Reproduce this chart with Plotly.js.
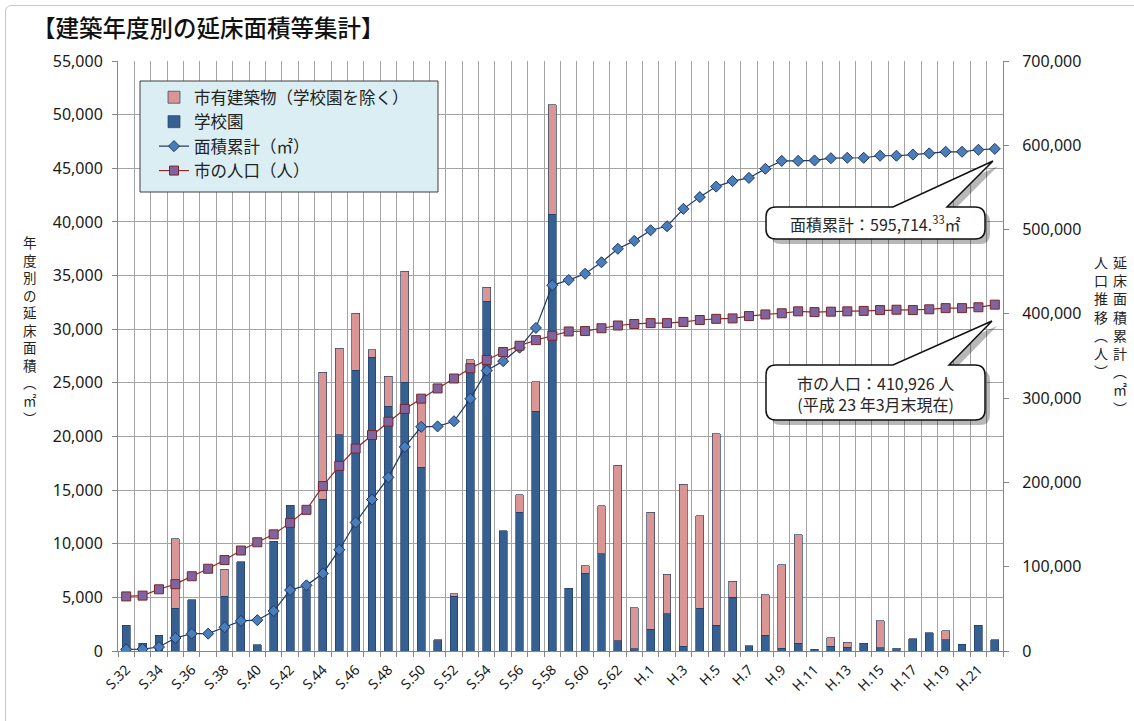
<!DOCTYPE html>
<html><head><meta charset="utf-8">
<script src="https://cdn.plot.ly/plotly-3.0.1.min.js"></script>
<style>
html,body{margin:0;padding:0;background:#fff;}
#wrap{position:relative;width:1134px;height:721px;overflow:hidden;}
#chart{width:1134px;height:721px;}
#frame{position:absolute;left:5px;top:5px;width:1140px;height:730px;border:1px solid #c8c8c8;border-radius:6px;pointer-events:none;}
</style></head>
<body><div id="wrap"><div id="chart"></div><div id="frame"></div></div>
<script>
// ---- data ----
const categories = ["S.32","S.33","S.34","S.35","S.36","S.37","S.38","S.39","S.40","S.41","S.42","S.43","S.44","S.45","S.46","S.47","S.48","S.49","S.50","S.51","S.52","S.53","S.54","S.55","S.56","S.57","S.58","S.59","S.60","S.61","S.62","S.63","H.1","H.2","H.3","H.4","H.5","H.6","H.7","H.8","H.9","H.10","H.11","H.12","H.13","H.14","H.15","H.16","H.17","H.18","H.19","H.20","H.21","H.22"];
const tickLabels = ["S.32","S.34","S.36","S.38","S.40","S.42","S.44","S.46","S.48","S.50","S.52","S.54","S.56","S.58","S.60","S.62","H.1","H.3","H.5","H.7","H.9","H.11","H.13","H.15","H.17","H.19","H.21"];
// 学校園 (m2)
const schoolArea = [2400,700,1450,4000,4800,0,5100,8300,600,10250,13600,5700,14150,20150,26150,27400,22800,25050,17150,950,5100,26600,32600,11200,12950,22350,40700,5850,7250,9050,950,200,2050,3450,450,4000,2400,5000,500,1450,250,700,150,450,350,700,300,100,1150,1700,1050,650,2400,1050];
// 市有建築物（学校園を除く）(m2)
const otherArea = [0,0,0,6450,0,0,2500,0,0,0,0,300,11850,8050,5350,700,2800,10350,6050,100,250,550,1300,0,1600,2750,10200,0,700,4500,16350,3850,10900,3700,15100,8600,17850,1500,0,3800,7800,10150,0,800,450,0,2500,150,0,0,850,0,0,0];
// 面積累計 (m2)
const cumulativeArea = [1900,2300,4700,15500,20600,20600,28200,35700,36600,47400,72300,77900,92000,120100,152500,179700,206000,242100,266000,266500,272600,299400,332700,343900,359900,383300,434000,440100,447600,461200,477200,486600,499200,503900,524600,538500,551000,557500,561300,572100,581500,581500,582000,584700,585200,585200,587600,587600,589000,590400,592300,592300,594700,595714];
// 市の人口 (人)
const population = [64750,65700,73200,79300,88700,97600,107900,119200,129000,138400,152000,167500,195700,219600,240200,256200,272100,287200,299400,311500,323300,335500,345300,354700,362200,368800,374000,379100,379600,382900,386200,388000,389000,389000,390400,392700,394100,394600,397400,399300,400700,403000,402100,402600,403000,403500,404500,404900,404500,405400,406800,406800,407800,410926];

const seriesNames = ["市有建築物（学校園を除く）","学校園","面積累計（㎡）","市の人口（人）"];
const titleText = "【建築年度別の延床面積等集計】";
const leftTitle = "年度別の延床面積︵㎡︶";
const rightTitle1 = "人口推移︵人︶";
const rightTitle2 = "延床面積累計︵㎡︶";
const callout1 = "面積累計：595,714.<sup>33</sup>㎡";
const callout2 = "市の人口：410,926 人<br>(平成 23 年3月末現在)";

// ---- geometry helpers (pixels -> paper) ----
const PL=118, PR=1003, PT=61, PB=651;
const px = x => (x-PL)/(PR-PL);
const py = y => (PB-y)/(PB-PT);

const xIdx = categories.map((c,i)=>i);
const tickVals = tickLabels.map(t=>categories.indexOf(t));
const nz = a => a.map(v => v===0 ? null : v);

const CJK = '"Noto Sans CJK JP", "Noto Sans", sans-serif';
const NUM = '"Noto Sans", "Open Sans", sans-serif';
const barLine = {color:'rgba(35,62,100,0.85)', width:0.8};

const traces = [
  {type:'bar', name:seriesNames[1], x:xIdx, y:nz(schoolArea), marker:{color:'#376092', line:barLine}, legendrank:2, legendgroup:'b'},
  {type:'bar', name:seriesNames[0], x:xIdx, y:nz(otherArea), marker:{color:'#D99694', line:barLine}, legendrank:1, legendgroup:'a'},
  {type:'scatter', mode:'lines+markers', name:seriesNames[2], x:xIdx, y:cumulativeArea, yaxis:'y2',
   line:{color:'#1F3864', width:1.2}, marker:{symbol:'diamond', size:8.5, color:'#4A7EBB', line:{color:'#1F3864', width:1}}, legendrank:3, legendgroup:'c'},
  {type:'scatter', mode:'lines+markers', name:seriesNames[3], x:xIdx, y:population, yaxis:'y2',
   line:{color:'#8B2B2B', width:1.2}, marker:{symbol:'square', size:9, color:'#8064A2', line:{color:'#7A2626', width:1}}, legendrank:4, legendgroup:'d'}
];

function bubble(L,T,R,B,r,ts,tx,ty,te,dx,dy){
  const P=(x,y)=>`${px(x+dx)},${py(y+dy)}`;
  return `M${P(L+r,T)} L${P(ts,T)} L${P(tx,ty)} L${P(te,T)} L${P(R-r,T)} Q${P(R,T)} ${P(R,T+r)} L${P(R,B-r)} Q${P(R,B)} ${P(R-r,B)} L${P(L+r,B)} Q${P(L,B)} ${P(L,B-r)} L${P(L,T+r)} Q${P(L,T)} ${P(L+r,T)} Z`;
}
const shapes = [
  // legend box
  {type:'rect', xref:'paper', yref:'paper', x0:px(140), x1:px(438), y0:py(192), y1:py(81), fillcolor:'#DAEEF3', line:{color:'#3F3F3F', width:1}, layer:'above'},
  // callout shadows
  {type:'path', xref:'paper', yref:'paper', path:bubble(766,207,985,239,10,893,993,161,947,5,5), fillcolor:'rgba(0,0,0,0.28)', line:{width:0}, layer:'above'},
  {type:'path', xref:'paper', yref:'paper', path:bubble(766,365,985,420,10,893,992,321,949,5,5), fillcolor:'rgba(0,0,0,0.28)', line:{width:0}, layer:'above'},
  // callouts
  {type:'path', xref:'paper', yref:'paper', path:bubble(766,207,985,239,10,893,993,161,947,0,0), fillcolor:'#ffffff', line:{color:'#111', width:1.5}, layer:'above'},
  {type:'path', xref:'paper', yref:'paper', path:bubble(766,365,985,420,10,893,992,321,949,0,0), fillcolor:'#ffffff', line:{color:'#111', width:1.5}, layer:'above'}
];

const vert = s => Array.from(s).join('<br>');
const annotations = [
  {xref:'paper', yref:'paper', x:px(30), y:py(330), text:vert(leftTitle), showarrow:false, xanchor:'center', yanchor:'middle', font:{family:CJK, size:13.5, color:'#222'}},
  {xref:'paper', yref:'paper', x:px(1101), y:py(316), text:vert(rightTitle1), showarrow:false, xanchor:'center', yanchor:'middle', font:{family:CJK, size:14, color:'#222'}},
  {xref:'paper', yref:'paper', x:px(1120), y:py(335), text:vert(rightTitle2), showarrow:false, xanchor:'center', yanchor:'middle', font:{family:CJK, size:14, color:'#222'}},
  {xref:'paper', yref:'paper', x:px(875), y:py(223), text:callout1, showarrow:false, xanchor:'center', yanchor:'middle', font:{family:CJK, size:16, color:'#262626'}},
  {xref:'paper', yref:'paper', x:px(875), y:py(393), text:callout2, showarrow:false, xanchor:'center', yanchor:'middle', font:{family:CJK, size:16, color:'#262626'}}
];

const grid = '#A3A3A3', axc = '#868686';
const layout = {
  width:1134, height:721,
  margin:{l:118, r:131, t:61, b:70, pad:0},
  paper_bgcolor:'#fff', plot_bgcolor:'#fff',
  title:{text:titleText, x:32/1134, xanchor:'left', y:1-29/721, yanchor:'middle', font:{family:CJK, size:23.5, color:'#111', weight:500}},
  barmode:'stack', bargap:0.52,
  hovermode:false,
  showlegend:true,
  legend:{x:px(154), xanchor:'left', y:py(80), yanchor:'top', bgcolor:'rgba(0,0,0,0)', borderwidth:0,
          font:{family:CJK, size:16.5, color:'#222'}, tracegroupgap:2.5, traceorder:'normal', itemwidth:30},
  xaxis:{type:'linear', range:[-0.5, categories.length-0.5], tickmode:'array', tickvals:tickVals, ticktext:tickLabels,
         tickangle:-45, ticks:'', showgrid:false, zeroline:false, showline:true, linecolor:axc, linewidth:1,
         tickfont:{family:NUM, size:14, color:'#1a1a1a'}, ticklabelstandoff:4,
         minor:{tickmode:'linear', tick0:-0.5, dtick:1, showgrid:true, gridcolor:grid, gridwidth:1, ticks:'outside', ticklen:5, tickcolor:axc}},
  yaxis:{range:[0,55000], tick0:0, dtick:5000, tickformat:',d', showgrid:true, gridcolor:grid, gridwidth:1, zeroline:false,
         showline:true, linecolor:axc, ticks:'outside', ticklen:5, tickcolor:axc, tickfont:{family:NUM, size:16, color:'#1a1a1a'}, ticklabelstandoff:6},
  yaxis2:{range:[0,700000], tick0:0, dtick:100000, tickformat:',d', overlaying:'y', side:'right', showgrid:false, zeroline:false,
          showline:true, linecolor:axc, ticks:'outside', ticklen:5, tickcolor:axc, tickfont:{family:NUM, size:16, color:'#1a1a1a'}, ticklabelstandoff:10},
  shapes:shapes,
  annotations:annotations
};
Plotly.newPlot('chart', traces, layout, {displayModeBar:false, staticPlot:true});
</script>
</body></html>
